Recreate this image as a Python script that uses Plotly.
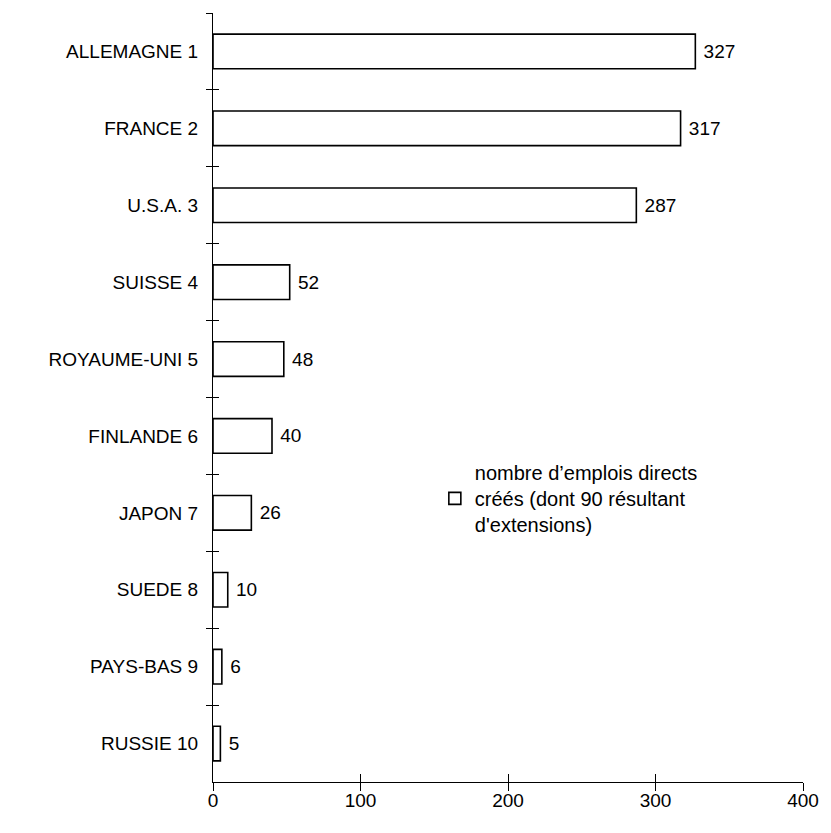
import plotly.graph_objects as go

categories = ["ALLEMAGNE 1", "FRANCE 2", "U.S.A. 3", "SUISSE 4", "ROYAUME-UNI 5",
              "FINLANDE 6", "JAPON 7", "SUEDE 8", "PAYS-BAS 9", "RUSSIE 10"]
values = [327, 317, 287, 52, 48, 40, 26, 10, 6, 5]
x_ticks = [0, 100, 200, 300, 400]
series_name = "nombre d\u2019emplois directs<br>créés (dont 90 résultant<br>d'extensions)"

FONT = "Liberation Sans, Arial, sans-serif"
FS = 19
n = len(categories)
boundaries = [i - 0.5 for i in range(n + 1)]

fig = go.Figure()
fig.add_trace(go.Bar(
    y=categories, x=values, orientation="h",
    marker=dict(color="white", line=dict(color="black", width=1.6)),
    text=[f" {v}" for v in values], textposition="outside",
    textfont=dict(size=FS, color="black", family=FONT),
    cliponaxis=False,
    name=series_name, showlegend=True,
))
# invisible trace to bring up overlay axes (other halves of crossing ticks)
fig.add_trace(go.Scatter(x=[0], y=[0], xaxis="x2", yaxis="y2", mode="markers",
                         marker=dict(opacity=0), showlegend=False, hoverinfo="skip"))

fig.update_layout(
    width=831, height=833,
    margin=dict(l=213, r=23, t=13, b=51),
    paper_bgcolor="white", plot_bgcolor="white",
    font=dict(family=FONT, size=FS, color="black"),
    bargap=0.55,
    xaxis=dict(range=[0, 400], tickvals=x_ticks, ticks="inside", ticklen=8,
               tickwidth=1, tickcolor="black", showline=True, linecolor="black",
               linewidth=1.2, showgrid=False, zeroline=False,
               ticklabelstandoff=1, tickfont=dict(size=FS, family=FONT)),
    yaxis=dict(type="category", categoryorder="array", categoryarray=categories,
               autorange="reversed", tickson="boundaries", ticks="outside",
               ticklen=6, tickwidth=1, tickcolor="black", showline=True,
               linecolor="black", linewidth=1.2, showgrid=False, zeroline=False,
               ticklabelstandoff=10, tickfont=dict(size=FS, family=FONT)),
    xaxis2=dict(overlaying="x", range=[0, 400], tickvals=x_ticks, ticks="outside",
                ticklen=8, tickwidth=1, tickcolor="black", showticklabels=False,
                showline=False, showgrid=False, zeroline=False, side="bottom"),
    yaxis2=dict(overlaying="y", range=[n - 0.5, -0.5], tickvals=boundaries,
                ticks="inside", ticklen=6, tickwidth=1, tickcolor="black",
                showticklabels=False, showline=False, showgrid=False,
                zeroline=False, side="left"),
    legend=dict(x=0.376, y=0.428, xanchor="left", yanchor="top",
                bgcolor="rgba(0,0,0,0)", font=dict(size=20, family=FONT),
                itemwidth=30, tracegroupgap=0),
)
fig.write_html("out.html", config={"displayModeBar": False},
               post_script="document.body.style.margin='0px';")
